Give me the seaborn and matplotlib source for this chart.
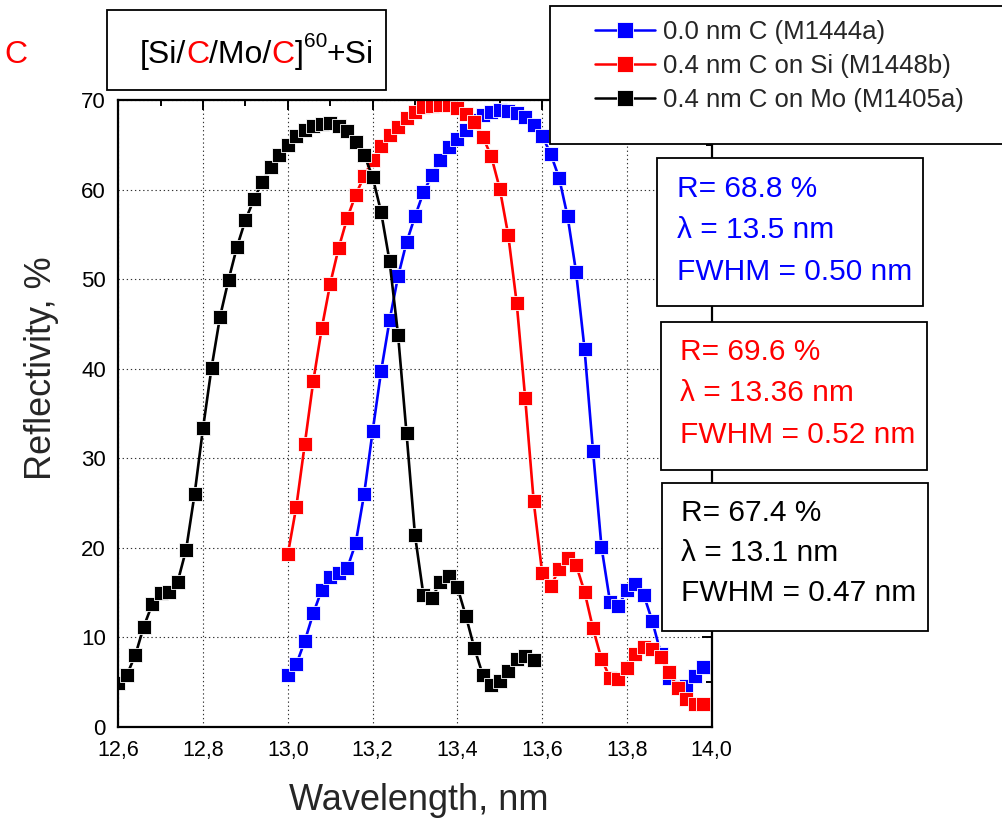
import numpy as np
import pandas as pd
import matplotlib
matplotlib.use("Agg")
import matplotlib.pyplot as plt
from matplotlib.patches import Rectangle
import seaborn as sns

# ---------------- data ----------------
wl_black = np.round(np.arange(12.60, 13.581, 0.02), 2)
r_black = [4.9, 5.8, 8.0, 11.2, 13.7, 15.0, 15.1, 16.2, 19.8, 26.0,
           33.4, 40.1, 45.8, 49.9, 53.6, 56.6, 58.9, 60.9, 62.5, 63.9,
           65.0, 66.0, 66.7, 67.1, 67.3, 67.4, 67.1, 66.5, 65.3, 63.9,
           61.4, 57.5, 52.0, 43.8, 32.8, 21.4, 14.7, 14.4, 16.2, 16.9,
           15.6, 12.4, 8.8, 5.8, 4.7, 5.1, 6.3, 7.6, 7.9, 7.5]

wl_red = np.round(np.arange(13.00, 13.981, 0.02), 2)
r_red = [19.3, 24.6, 31.6, 38.6, 44.5, 49.5, 53.5, 56.8, 59.4, 61.5,
         63.3, 64.9, 66.1, 67.0, 68.0, 68.7, 69.2, 69.3, 69.4, 69.4,
         69.1, 68.4, 67.5, 65.9, 63.7, 60.1, 54.9, 47.3, 36.7, 25.2,
         17.2, 15.7, 17.6, 18.9, 18.1, 15.1, 11.0, 7.6, 5.5, 5.4,
         6.6, 8.1, 8.9, 8.7, 7.8, 6.1, 4.3, 3.1, 2.6, 2.6]

wl_blue = np.round(np.arange(13.00, 13.981, 0.02), 2)
r_blue = [5.8, 7.0, 9.6, 12.7, 15.3, 16.8, 17.2, 17.7, 20.5, 26.0,
          33.0, 39.7, 45.4, 50.3, 54.1, 57.0, 59.7, 61.6, 63.3, 64.7,
          65.7, 66.7, 67.8, 68.3, 68.7, 68.9, 68.8, 68.5, 68.1, 67.2,
          66.0, 64.0, 61.3, 57.0, 50.8, 42.2, 30.8, 20.1, 14.0, 13.5,
          15.3, 16.0, 14.7, 11.8, 8.2, 5.5, 4.5, 4.6, 5.7, 6.7]

labels = ["0.0 nm C (M1444a)", "0.4 nm C on Si (M1448b)", "0.4 nm C on Mo (M1405a)"]
colors = ["#0000ff", "#ff0000", "#000000"]

xticks = [12.6, 12.8, 13.0, 13.2, 13.4, 13.6, 13.8, 14.0]
xticklabels = ["12,6", "12,8", "13,0", "13,2", "13,4", "13,6", "13,8", "14,0"]
yticks = [0, 10, 20, 30, 40, 50, 60, 70]

boxes = [
    (["R= 68.8 %", "λ = 13.5 nm", "FWHM = 0.50 nm"], "#0000ff"),
    (["R= 69.6 %", "λ = 13.36 nm", "FWHM = 0.52 nm"], "#ff0000"),
    (["R= 67.4 %", "λ = 13.1 nm", "FWHM = 0.47 nm"], "#000000"),
]

df = pd.concat([
    pd.DataFrame({"wl": wl_blue, "R": r_blue, "sample": labels[0]}),
    pd.DataFrame({"wl": wl_red, "R": r_red, "sample": labels[1]}),
    pd.DataFrame({"wl": wl_black, "R": r_black, "sample": labels[2]}),
], ignore_index=True)

# ---------------- style ----------------
sns.set_theme(style="white")
plt.rcParams["font.family"] = ["Liberation Sans", "DejaVu Sans"]

W, H = 1002, 822
fig = plt.figure(figsize=(W / 100, H / 100), dpi=100)
fig.patch.set_facecolor("white")

def px(x0, y0):
    return x0 / W, 1 - y0 / H

ax_l, ax_r, ax_t, ax_b = 118.3, 711.7, 100.0, 727.0
ax = fig.add_axes([ax_l / W, 1 - ax_b / H, (ax_r - ax_l) / W, (ax_b - ax_t) / H])
ax.set_facecolor("white")

sns.lineplot(data=df, x="wl", y="R", hue="sample", style="sample",
             hue_order=labels, style_order=labels, palette=colors,
             markers=["s", "s", "s"], dashes=False, sort=False,
             linewidth=1.9, markersize=10, markeredgecolor="white",
             markeredgewidth=0.6, ax=ax)

ax.set_xlim(12.6, 14.0)
ax.set_ylim(0, 70)
ax.set_xticks(xticks)
ax.set_xticklabels(xticklabels)
ax.set_yticks(yticks)
ax.set_xticks(np.arange(12.7, 14.0, 0.2), minor=True)
ax.set_yticks(np.arange(5, 70, 10), minor=True)
ax.tick_params(which="both", direction="in", top=True, right=True,
               width=1.4, color="black", labelcolor="black")
ax.tick_params(axis="x", which="major", labelsize=15.5, pad=9)
ax.tick_params(axis="y", which="major", labelsize=16, pad=9)
ax.tick_params(which="major", length=7)
ax.tick_params(which="minor", length=4.5)
ax.grid(True, which="major", linestyle=(0, (1.2, 2.5)), color="#333333", linewidth=0.8)
for s in ax.spines.values():
    s.set_color("black")
    s.set_linewidth(1.6)
ax.set_xlabel("")
ax.set_ylabel("")

# legend
leg0 = ax.get_legend()
handles = list(leg0.legend_handles)
leg_labels = [t.get_text() for t in leg0.get_texts()]
leg0.remove()
for h in handles:
    h.set_markersize(11)
    h.set_linewidth(1.8)
fig.patches.append(Rectangle(px(550, 144), (1010 - 550) / W, (144 - 6) / H,
                             transform=fig.transFigure, facecolor="white",
                             edgecolor="black", linewidth=1.3, zorder=5))
leg = fig.legend(handles, leg_labels, loc="upper left",
                 bbox_to_anchor=px(595, 20), bbox_transform=fig.transFigure,
                 frameon=False, fontsize=18.5, handlelength=2.35,
                 handletextpad=0.3, labelspacing=0.38, borderpad=0,
                 borderaxespad=0)
leg.set_zorder(6)

# axis labels
fig.text(*px(419, 800), "Wavelength, nm", fontsize=26, ha="center", va="center")
fig.text(*px(42, 368), "Reflectivity, %", fontsize=26, ha="center", va="center",
         rotation=90)

# title box
fig.patches.append(Rectangle(px(107, 90), (386 - 107) / W, (90 - 10) / H,
                             transform=fig.transFigure, facecolor="white",
                             edgecolor="black", linewidth=1.3, zorder=5))
renderer = fig.canvas.get_renderer()
pieces = [("[Si/", "black", 23, 0), ("C", "red", 23, 0), ("/Mo/", "black", 23, 0),
          ("C", "red", 23, 0), ("]", "black", 23, 0), ("60", "black", 15, 16),
          ("+Si", "black", 23, 0)]
xcur = 140.0
ybase = 63.0
for s, c, fs, dy in pieces:
    t = fig.text(*px(xcur, ybase - dy), s, color=c, fontsize=fs,
                 ha="left", va="baseline", zorder=7)
    bb = t.get_window_extent(renderer)
    xcur += bb.width

# red text fragment at left edge
fig.text(*px(4, 55), "C", color="red", fontsize=23, ha="left", va="center")

# annotation boxes
box_geo = [(657, 158, 923, 306, 677, [189, 230, 272]),
           (661, 322, 927, 470, 680, [352, 393, 435]),
           (662, 483, 928, 631, 681, [513, 553, 593])]
for (lines, col), (x0, y0, x1, y1, tx, tys) in zip(boxes, box_geo):
    fig.patches.append(Rectangle(px(x0, y1), (x1 - x0) / W, (y1 - y0) / H,
                                 transform=fig.transFigure, facecolor="white",
                                 edgecolor="black", linewidth=1.3, zorder=5))
    for line, ty in zip(lines, tys):
        fig.text(*px(tx, ty), line, color=col, fontsize=21.5, ha="left",
                 va="center", zorder=7)

fig.savefig("out.png", dpi=100)
